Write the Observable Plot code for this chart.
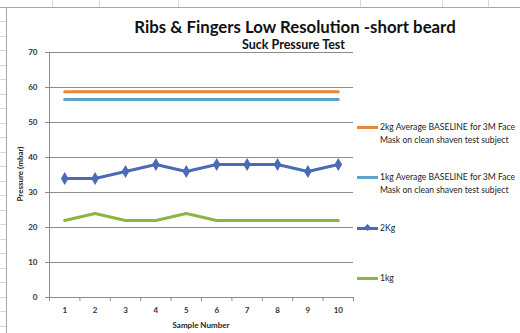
<!DOCTYPE html>
<html><head><meta charset="utf-8">
<script src="https://cdn.jsdelivr.net/npm/d3@7"></script>
<script src="https://cdn.jsdelivr.net/npm/@observablehq/plot@0.6"></script>
<style>
html,body{margin:0;padding:0;background:#fff;}
#wrap{position:relative;width:520px;height:333px;overflow:hidden;font-family:Lato,"Open Sans",sans-serif;background:#fff;}
#wrap svg{position:absolute;left:0;top:0;}
.abs{position:absolute;white-space:nowrap;}
#title{left:0;width:590px;top:16px;text-align:center;font-weight:bold;font-size:16.8px;color:#111;}
#subtitle{left:242px;top:37px;font-weight:bold;font-size:12.5px;color:#111;}
#ylab{left:20px;top:174px;font-weight:bold;font-size:8px;color:#222;transform:translate(-50%,-50%) rotate(-90deg);}
#xlab{left:201px;top:325px;font-weight:bold;font-size:8px;color:#222;transform:translate(-50%,-50%);}
.leg{position:absolute;left:357px;font-size:8.6px;color:#222;line-height:13px;}
.leg .sw{position:absolute;left:0;width:21px;height:3px;}
.leg .tx{position:absolute;left:23px;white-space:nowrap;}
.frameTop{position:absolute;left:0;top:7px;width:520px;height:1px;background:#a6a6a6;}
.frameLeft{position:absolute;left:6px;top:7px;width:1px;height:333px;background:#a6a6a6;}
.cellV{position:absolute;top:0;width:1px;height:7px;background:#d9d9d9;}
.cellH{position:absolute;left:0;width:6px;height:1px;background:#d9d9d9;}
</style></head>
<body>
<div id="wrap"></div>
<script>
const samples = [1,2,3,4,5,6,7,8,9,10];
const kg2 = [34,34,36,38,36,38,38,38,36,38];
const kg1 = [22,24,22,22,24,22,22,22,22,22];
const baseline2kg = 58.8;
const baseline1kg = 56.6;
const yTicks = [0,10,20,30,40,50,60,70];
const seriesNames = ["2kg Average BASELINE for 3M Face\nMask on clean shaven test subject",
                     "1kg Average BASELINE for 3M Face\nMask on clean shaven test subject",
                     "2Kg","1kg"];
const colors = ["#E8873A","#5BA3C9","#4A6BB5","#8DB443"];

const rows = (vals, s) => samples.map((x,i)=>({x, y: vals[i], s}));
const d2 = rows(kg2,"2Kg");
const d1 = rows(kg1,"1kg");
const b2 = rows(samples.map(()=>baseline2kg),"b2");
const b1 = rows(samples.map(()=>baseline1kg),"b1");
const bounds = d3.range(0.5, 11, 1);

const plot = Plot.plot({
  width: 520, height: 333,
  marginLeft: 49, marginRight: 167, marginTop: 52, marginBottom: 36,
  style: {fontFamily: "Lato, 'Open Sans', sans-serif", fontSize: "8px", fontWeight: "bold", color: "#333", background: "transparent"},
  x: {domain: [0.5, 10.5], label: null},
  y: {domain: [0, 70], label: null},
  marks: [
    Plot.gridY(yTicks, {stroke: "#8c8c8c", strokeOpacity: 1, strokeWidth: 1}),
    Plot.ruleX([0.5], {stroke: "#8c8c8c"}),
    Plot.ruleY([0], {stroke: "#8c8c8c"}),
    Plot.axisY({ticks: yTicks, tickSize: 4, tickPadding: 8, stroke: "#8c8c8c", fill: "#333"}),
    Plot.axisX({ticks: samples, tickSize: 0, tickPadding: 10, fill: "#333"}),
    Plot.axisX({ticks: bounds, tickSize: 4, tickFormat: () => "", stroke: "#8c8c8c"}),
    Plot.line(b2, {x: "x", y: "y", stroke: colors[0], strokeWidth: 3}),
    Plot.line(b1, {x: "x", y: "y", stroke: colors[1], strokeWidth: 3}),
    Plot.line(d1, {x: "x", y: "y", stroke: colors[3], strokeWidth: 3}),
    Plot.line(d2, {x: "x", y: "y", stroke: colors[2], strokeWidth: 3}),
    Plot.dot(d2, {x: "x", y: "y", symbol: "diamond", fill: colors[2], r: 4})
  ]
});

const wrap = document.getElementById("wrap");
// spreadsheet background cells
[52,99,178,360,442,488].forEach(x=>{const d=document.createElement("div");d.className="cellV";d.style.left=x+"px";wrap.appendChild(d);});
for(let y=21;y<333;y+=14.5){const d=document.createElement("div");d.className="cellH";d.style.top=Math.round(y)+"px";wrap.appendChild(d);}
wrap.insertAdjacentHTML("beforeend",'<div class="frameTop"></div><div class="frameLeft"></div>');
wrap.appendChild(plot);

function addText(id, txt){const d=document.createElement("div");d.id=id;d.className="abs";d.textContent=txt;wrap.appendChild(d);}
addText("title","Ribs & Fingers Low Resolution -short beard");
addText("subtitle","Suck Pressure Test");
addText("ylab","Pressure (mbar)");
addText("xlab","Sample Number");

const legY = [127,177,228,278];
seriesNames.forEach((name,i)=>{
  const g=document.createElement("div");g.className="leg";g.style.top=legY[i]+"px";
  const sw=document.createElement("div");sw.className="sw";sw.style.background=colors[i];sw.style.top="-1.5px";g.appendChild(sw);
  if(i===2){const dm=document.createElement("div");dm.style.cssText="position:absolute;left:8px;top:-3.5px;width:5px;height:5px;background:"+colors[2]+";transform:rotate(45deg);";g.appendChild(dm);}
  const tx=document.createElement("div");tx.className="tx";tx.style.top="-6.5px";
  tx.innerHTML=name.split("\n").join("<br>");g.appendChild(tx);
  wrap.appendChild(g);
});
</script>
</body></html>
